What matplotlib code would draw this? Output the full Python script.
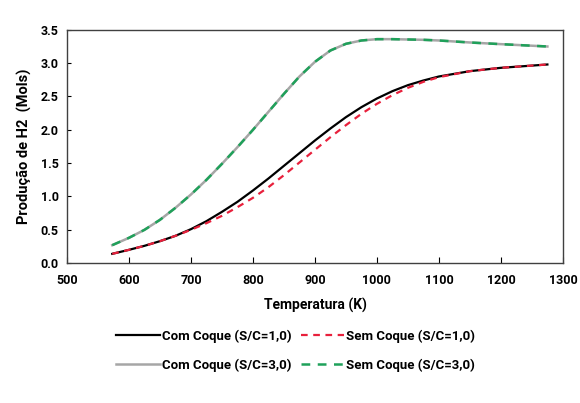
import matplotlib
matplotlib.use("Agg")
import matplotlib.pyplot as plt

# temperature grid (K) and H2 production (mol)
temp = [573, 600, 625, 650, 675, 700, 725, 750, 775, 800, 825, 850, 875,
        900, 925, 950, 975, 1000, 1025, 1050, 1075, 1100, 1150, 1200, 1275]
com_coque_sc1 = [0.14, 0.20, 0.26, 0.33, 0.41, 0.51, 0.63, 0.77, 0.92, 1.09, 1.27, 1.46, 1.65,
                 1.84, 2.02, 2.19, 2.34, 2.47, 2.58, 2.67, 2.74, 2.80, 2.88, 2.93, 2.98]
sem_coque_sc1 = [0.14, 0.20, 0.26, 0.33, 0.41, 0.50, 0.60, 0.71, 0.84, 0.98, 1.14, 1.32, 1.51,
                 1.70, 1.89, 2.07, 2.24, 2.39, 2.52, 2.63, 2.72, 2.79, 2.88, 2.93, 2.98]
com_coque_sc3 = [0.27, 0.38, 0.50, 0.65, 0.83, 1.03, 1.25, 1.49, 1.74, 2.00, 2.27, 2.54, 2.80,
                 3.02, 3.19, 3.29, 3.34, 3.36, 3.36, 3.355, 3.35, 3.34, 3.31, 3.285, 3.25]
sem_coque_sc3 = [0.27, 0.38, 0.50, 0.65, 0.83, 1.03, 1.25, 1.49, 1.74, 2.00, 2.27, 2.54, 2.80,
                 3.02, 3.19, 3.29, 3.34, 3.36, 3.36, 3.355, 3.35, 3.34, 3.31, 3.285, 3.25]

plt.rcParams['font.family'] = ['Roboto', 'DejaVu Sans']
plt.rcParams['font.weight'] = 'bold'
plt.rcParams['axes.labelweight'] = 'bold'

fig = plt.figure(figsize=(5.8, 4.03), dpi=100)
ax = fig.add_axes([0.1155, 0.347, 0.855, 0.579])

l1, = ax.plot(temp, com_coque_sc1, color='black', lw=1.6, label='Com Coque (S/C=1,0)')
l2, = ax.plot(temp, sem_coque_sc1, color='#e8203c', lw=1.6, ls=(0, (3, 2.5)), label='Sem Coque (S/C=1,0)')
l3, = ax.plot(temp, com_coque_sc3, color='#a6a6a6', lw=1.8, label='Com Coque (S/C=3,0)')
l4, = ax.plot(temp, sem_coque_sc3, color='#1fa15a', lw=1.8, ls=(0, (3.5, 3)), label='Sem Coque (S/C=3,0)')

ax.set_xlim(500, 1300)
ax.set_ylim(0, 3.5)
ax.set_xticks(range(500, 1301, 100))
ax.set_yticks([0, 0.5, 1.0, 1.5, 2.0, 2.5, 3.0, 3.5])
ax.set_yticklabels(['%.1f' % v for v in ax.get_yticks()])
ax.tick_params(axis='x', direction='in', length=4, labelsize=9, pad=8)
ax.tick_params(axis='y', direction='in', length=3, labelsize=9, pad=6)
for s in ax.spines.values():
    s.set_color('#404040')
    s.set_linewidth(1.0)

ax.set_xlabel('Temperatura (K)', fontsize=10, labelpad=8)
ax.set_ylabel('Produção de H2  (Mols)', fontsize=10.5, labelpad=6)

# row-wise order: matplotlib fills legend columns first
fig.legend([l1, l3, l2, l4], [l1.get_label(), l3.get_label(), l2.get_label(), l4.get_label()],
           loc='center', bbox_to_anchor=(0.51, 0.13), ncol=2,
           frameon=False, fontsize=9.5, handlelength=3.3, columnspacing=0.7,
           handletextpad=0.15, labelspacing=1.2)

fig.savefig('out.png', dpi=100)
